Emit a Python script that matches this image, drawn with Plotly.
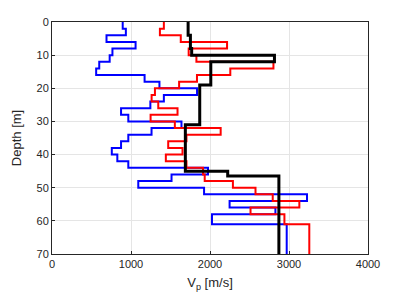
import plotly.graph_objects as go

# Layer tops (m) and P-wave velocities (m/s)
black_tops = [0, 4, 8, 10, 12, 19, 31, 45, 46.5]
black_vp = [1723, 1752, 1768, 2816, 2010, 1870, 1688, 2224, 2872]

red_tops = [0, 2, 4, 6, 8, 10, 12, 14, 16, 18, 20, 22, 24, 26, 28, 30, 32, 34, 36, 38, 40, 42, 44, 46, 48, 50, 52, 54, 56, 58, 61]
red_vp = [1416, 1366, 1630, 2216, 1730, 1828, 2803, 2257, 1835, 1609, 1303, 1261, 1345, 1589, 1248, 1555, 2135, 1702, 1471, 1652, 1441, 1702, 1912, 1933, 2290, 2576, 2794, 3131, 2513, 2942, 3257]

blue_tops = [0, 2, 4, 6, 8, 10, 12, 14, 16, 18, 20, 22, 24, 26, 28, 30, 32, 34, 36, 38, 40, 42, 44, 46, 48, 50, 52, 54, 56, 58, 61]
blue_vp = [895, 935, 690, 1058, 765, 730, 598, 559, 1172, 1360, 1836, 1416, 1245, 874, 966, 1639, 1260, 966, 874, 757, 827, 966, 1975, 1513, 1092, 1925, 3228, 2248, 2828, 2025, 2971]

max_depth = 70
x_ticks = [0, 1000, 2000, 3000, 4000]
y_ticks = [0, 10, 20, 30, 40, 50, 60, 70]


def profile(tops, vp):
    return vp + [vp[-1]], tops + [max_depth]


fig = go.Figure()
for tops, vp, color, width in [
    (blue_tops, blue_vp, "#0000ff", 2),
    (red_tops, red_vp, "#ff0000", 2),
    (black_tops, black_vp, "#000000", 3),
]:
    x, y = profile(tops, vp)
    fig.add_trace(go.Scatter(x=x, y=y, mode="lines", line=dict(color=color, width=width, shape="vh"),
                             showlegend=False, hoverinfo="skip"))

axis_common = dict(
    showline=True, linecolor="#262626", linewidth=1, mirror=True,
    showgrid=True, gridcolor="#e5e5e5", gridwidth=1,
    ticks="inside", ticklen=3, tickcolor="#262626",
    zeroline=False, automargin=False,
    tickfont=dict(family="Liberation Sans, Arial, sans-serif", size=11, color="#262626"),
)

fig.update_layout(
    width=407, height=305,
    margin=dict(l=44, r=47, t=14, b=59),
    paper_bgcolor="white", plot_bgcolor="white",
    font=dict(family="Liberation Sans, Arial, sans-serif", color="#262626"),
    xaxis=dict(range=[0, 4000], tickvals=x_ticks, ticktext=[str(v) for v in x_ticks],
               title=dict(text="V<sub>p</sub> [m/s]", font=dict(size=13), standoff=8), **axis_common),
    yaxis=dict(range=[max_depth, 0], tickvals=y_ticks, ticktext=[str(v) for v in y_ticks],
               title=dict(text="Depth [m]", font=dict(size=13), standoff=11), **axis_common),
)

fig.write_html("out.html")
